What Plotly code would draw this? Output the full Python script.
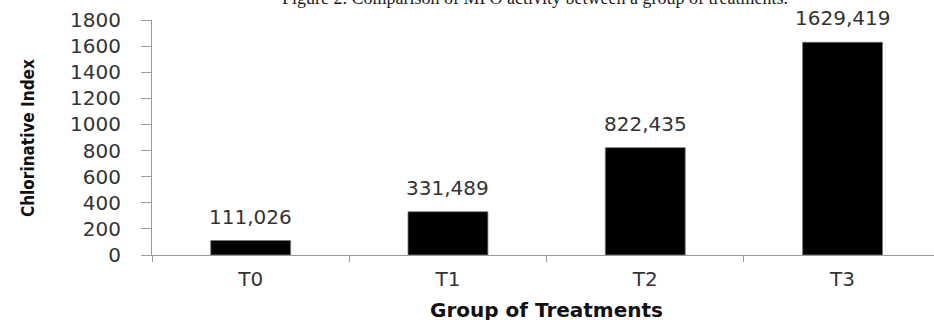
import plotly.graph_objects as go

categories = ["T0", "T1", "T2", "T3"]
values = [111.026, 331.489, 822.435, 1629.419]
labels = ["111,026", "331,489", "822,435", "1629,419"]
y_ticks = [0, 200, 400, 600, 800, 1000, 1200, 1400, 1600, 1800]

title_text = "Figure 2. Comparison of MPO activity between a group of treatments."
x_title = "Group of Treatments"
y_title = "Chlorinative Index"

W, H = 934, 320
ml, mr, mt, mb = 152, 0, 20, 65
plot_h = H - mt - mb
plot_w = W - ml - mr
cat_w = 197.3
x_max = -0.5 + plot_w / cat_w

fig = go.Figure()
fig.add_trace(go.Bar(
    x=categories, y=values, width=0.405,
    marker=dict(color="black", line=dict(color="#777777", width=0.8)),
    showlegend=False, hoverinfo="skip",
))

annotations = []
for c, v, t in zip(categories, values, labels):
    annotations.append(dict(x=c, y=v, xref="x", yref="y", text=t, showarrow=False,
                            yanchor="bottom", yshift=10,
                            font=dict(family="DejaVu Sans", size=20, color="#333333")))
annotations.append(dict(x=(535 - ml) / plot_w, y=1 + (mt - 10) / plot_h, xref="paper", yref="paper",
                        text=title_text, showarrow=False, yanchor="bottom",
                        font=dict(family="Liberation Serif", size=18, color="#222222")))
annotations.append(dict(x=(546 - ml) / plot_w, y=-(310 - (H - mb)) / plot_h, xref="paper", yref="paper",
                        text="<b>" + x_title + "</b>", showarrow=False, yanchor="middle",
                        font=dict(family="DejaVu Sans", size=20, color="#111111")))
annotations.append(dict(x=(28 - ml) / plot_w, y=(H - mb - 138) / plot_h, xref="paper", yref="paper",
                        text="<b>" + y_title + "</b>", showarrow=False, textangle=-90,
                        xanchor="center", yanchor="middle",
                        font=dict(family="DejaVu Sans Condensed", size=17, color="#111111")))

fig.update_layout(
    width=W, height=H,
    margin=dict(l=ml, r=mr, t=mt, b=mb),
    paper_bgcolor="white", plot_bgcolor="white",
    annotations=annotations,
    bargap=0.6,
)
fig.update_xaxes(
    range=[-0.5, x_max], showgrid=False, showline=True, linecolor="#9a9a9a", linewidth=1.2,
    ticks="outside", tickson="boundaries", ticklen=6, tickcolor="#9a9a9a",
    tickfont=dict(family="DejaVu Sans", size=20, color="#333333"),
    ticklabelstandoff=6, fixedrange=True,
)
fig.update_yaxes(
    range=[0, 1800], tickvals=y_ticks, showgrid=False, zeroline=False,
    showline=True, linecolor="#9a9a9a", linewidth=1.2,
    ticks="outside", ticklen=10, tickcolor="#9a9a9a",
    tickfont=dict(family="DejaVu Sans", size=20, color="#333333"),
    ticklabelstandoff=16, fixedrange=True,
)

fig.write_html("out.html", config={"displayModeBar": False})
